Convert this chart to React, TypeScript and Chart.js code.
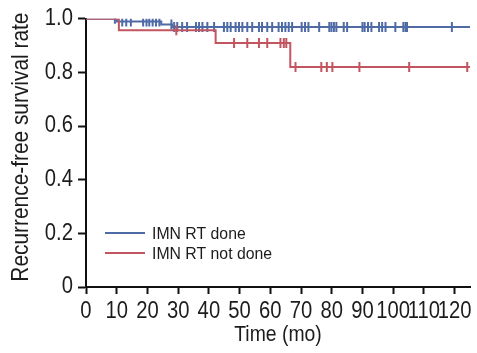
import React, { useEffect, useRef } from "react";
import { Chart, registerables } from "chart.js";

Chart.register(...registerables);

// Kaplan-Meier step data (time in months, survival)
const blueStepTimes = [0, 10, 24.5, 28, 125];
const blueStepSurv = [1.0, 0.99, 0.979, 0.969, 0.969];
const redStepTimes = [0, 10.7, 42.2, 66.5, 125];
const redStepSurv = [1.0, 0.957, 0.91, 0.82, 0.82];

// Censored observation times
const blueCensorTimes = [
  9.4, 11.8, 13.1, 14.6, 18.6, 19.7, 20.6, 21.7, 22.8, 23.9, 27.8, 28.7, 29.7, 31.3, 32.9,
  35.8, 36.8, 37.9, 39.5, 41.7, 44.9, 46, 47.1, 48.7, 49.8, 50.9, 52.5, 54.1, 56.3, 57.3,
  59, 60.6, 62.7, 63.8, 64.9, 66, 67.1, 70.2, 71.3, 72.4, 75.9, 79.2, 79.9, 80.7, 81.5,
  83.9, 85, 90, 90.7, 91.8, 92.9, 95.4, 96.4, 97.5, 100.7, 103.3, 104, 104.5, 119.1,
];
const redCensorTimes = [29.4, 48.2, 52.5, 56.3, 59, 63.3, 64.4, 65.2, 68.2, 76.6, 78.4, 80.2, 89, 105.2, 124.1];

const seriesLabels = ["IMN RT done", "IMN RT not done"];
const seriesColors = ["#4f6ba6", "#c2555f"];

const xTickValues = [0, 10, 20, 30, 40, 50, 60, 70, 80, 90, 100, 110, 120];
const yTickValues = [0, 0.2, 0.4, 0.6, 0.8, 1.0];
const xTitle = "Time (mo)";
const yTitle = "  Recurrence-free survival rate";

const FONT = "'Liberation Sans', Arial, sans-serif";
const TEXT_COLOR = "#1e1b1c";

// font sizes and the horizontal condensing applied for each (mimics a condensed face)
const TICK_SIZE = 23;
const XTITLE_SIZE = 22;
const YTITLE_SIZE = 23.2;
const LEGEND_SIZE = 17;
const condenseBySize: Record<string, number> = {
  [String(TICK_SIZE)]: 0.88,
  [String(XTITLE_SIZE)]: 0.88,
  [String(YTITLE_SIZE)]: 0.9,
  [String(LEGEND_SIZE)]: 0.93,
};

function survAt(times: number[], surv: number[], t: number) {
  let s = surv[0];
  for (let i = 0; i < times.length; i++) if (times[i] <= t) s = surv[i];
  return s;
}

function condenseContext(ctx: any) {
  const getSX = () => {
    const m = /([\d.]+)px/.exec(ctx.font);
    return (m && condenseBySize[String(parseFloat(m[1]))]) || 1;
  };
  const origFill = ctx.fillText.bind(ctx);
  const origMeasure = ctx.measureText.bind(ctx);
  ctx.fillText = (text: string, x: number, y: number) => {
    const sx = getSX();
    ctx.save();
    ctx.translate(x, y);
    ctx.scale(sx, 1);
    origFill(text, 0, 0);
    ctx.restore();
  };
  ctx.measureText = (text: string) => {
    const sx = getSX();
    const m = origMeasure(text);
    return {
      width: m.width * sx,
      actualBoundingBoxLeft: m.actualBoundingBoxLeft * sx,
      actualBoundingBoxRight: m.actualBoundingBoxRight * sx,
      actualBoundingBoxAscent: m.actualBoundingBoxAscent,
      actualBoundingBoxDescent: m.actualBoundingBoxDescent,
      fontBoundingBoxAscent: m.fontBoundingBoxAscent,
      fontBoundingBoxDescent: m.fontBoundingBoxDescent,
    };
  };
}

const insideLegend = {
  id: "insideLegend",
  afterDraw(chart: any) {
    const ctx = chart.ctx;
    const { left, bottom } = chart.chartArea;
    const items = chart.data.datasets.filter((d: any) => d.legendItem);
    ctx.save();
    ctx.font = `${LEGEND_SIZE}px ${FONT}`;
    ctx.textBaseline = "middle";
    ctx.textAlign = "left";
    items.forEach((d: any, i: number) => {
      const y = bottom - 54 + i * 20;
      ctx.strokeStyle = d.borderColor;
      ctx.lineWidth = 2;
      ctx.beginPath();
      ctx.moveTo(left + 19, y);
      ctx.lineTo(left + 59, y);
      ctx.stroke();
      ctx.fillStyle = TEXT_COLOR;
      ctx.fillText(d.label, left + 66, y + 1);
    });
    ctx.restore();
  },
};

export default function App() {
  const ref = useRef<HTMLCanvasElement>(null);
  useEffect(() => {
    const canvas = ref.current!;
    condenseContext(canvas.getContext("2d"));
    const steps = (times: number[], surv: number[]) => times.map((t, i) => ({ x: t, y: surv[i] }));
    const censor = (ct: number[], times: number[], surv: number[]) =>
      ct.map((t) => ({ x: t, y: survAt(times, surv, t) }));
    const censorStyle = (color: string) => ({
      showLine: false,
      pointStyle: "line",
      rotation: 90,
      pointRadius: 5,
      pointBorderWidth: 2,
      pointBorderColor: color,
      borderColor: color,
      backgroundColor: color,
    });
    const chart = new Chart(canvas, {
      type: "line",
      data: {
        datasets: [
          {
            label: seriesLabels[0],
            legendItem: true,
            data: steps(blueStepTimes, blueStepSurv),
            borderColor: seriesColors[0],
            borderWidth: 2,
            stepped: true,
            pointRadius: 0,
            order: 2,
          } as any,
          {
            label: seriesLabels[0] + " censored",
            data: censor(blueCensorTimes, blueStepTimes, blueStepSurv),
            ...censorStyle(seriesColors[0]),
            order: 2,
          } as any,
          {
            label: seriesLabels[1],
            legendItem: true,
            data: steps(redStepTimes, redStepSurv),
            borderColor: seriesColors[1],
            borderWidth: 2,
            stepped: true,
            pointRadius: 0,
            order: 1,
          } as any,
          {
            label: seriesLabels[1] + " censored",
            data: censor(redCensorTimes, redStepTimes, redStepSurv),
            ...censorStyle(seriesColors[1]),
            order: 1,
          } as any,
        ],
      },
      options: {
        responsive: false,
        animation: false,
        devicePixelRatio: 1,
        layout: { padding: { top: 16, right: 5, left: 0, bottom: 0 } },
        plugins: { legend: { display: false }, tooltip: { enabled: false } },
        scales: {
          x: {
            type: "linear",
            min: 0,
            max: 125,
            afterBuildTicks: (s: any) => {
              s.ticks = xTickValues.map((v) => ({ value: v }));
            },
            afterFit: (s: any) => {
              s.height = 66;
            },
            grid: { drawOnChartArea: false, tickLength: 7, tickWidth: 2, tickColor: "#111" },
            border: { color: "#111", width: 2 },
            ticks: {
              color: TEXT_COLOR,
              font: { family: FONT, size: TICK_SIZE },
              padding: 4,
              maxRotation: 0,
              autoSkip: false,
              callback: (v: any) => String(v),
            },
            title: {
              display: true,
              text: xTitle,
              color: TEXT_COLOR,
              font: { family: FONT, size: XTITLE_SIZE },
              padding: { top: 0, bottom: 5 },
            },
          },
          y: {
            type: "linear",
            min: 0,
            max: 1,
            afterBuildTicks: (s: any) => {
              s.ticks = yTickValues.map((v) => ({ value: v }));
            },
            afterFit: (s: any) => {
              s.width = 86;
            },
            grid: { drawOnChartArea: false, tickLength: 8, tickWidth: 2, tickColor: "#111" },
            border: { color: "#111", width: 2 },
            ticks: {
              color: TEXT_COLOR,
              font: { family: FONT, size: TICK_SIZE },
              padding: 5,
              callback: (v: any) => (v === 0 ? "0" : Number(v).toFixed(1)),
            },
            title: {
              display: true,
              text: yTitle,
              color: TEXT_COLOR,
              font: { family: FONT, size: YTITLE_SIZE },
              padding: { top: 8, bottom: 0 },
            },
          },
        },
      },
      plugins: [insideLegend],
    } as any);
    return () => chart.destroy();
  }, []);
  return (
    <div style={{ position: "absolute", left: 0, top: 0, width: 477, height: 353, background: "#fff" }}>
      <canvas ref={ref} width={477} height={353} />
    </div>
  );
}
